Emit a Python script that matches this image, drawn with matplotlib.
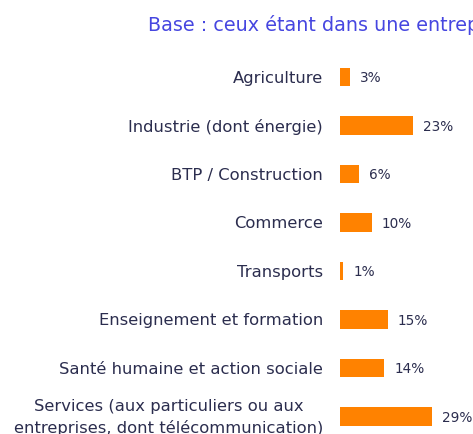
import matplotlib
matplotlib.use("Agg")
import matplotlib.pyplot as plt
from matplotlib.transforms import blended_transform_factory, offset_copy

categories = ["Agriculture", "Industrie (dont énergie)", "BTP / Construction", "Commerce",
              "Transports", "Enseignement et formation", "Santé humaine et action sociale",
              "Services (aux particuliers ou aux\nentreprises, dont télécommunication)"]
values = [3, 23, 6, 10, 1, 15, 14, 29]
title = "Base : ceux étant dans une entreprise"

W, H = 473, 435
fig = plt.figure(figsize=(W/100, H/100), dpi=100)
plt.rcParams['font.family'] = ['DejaVu Sans']

# axes: left at x=340 px, top at y=54 px, bottom at 435
ax = fig.add_axes([340/W, 0, 1 - 340/W, (435-54)/H])
ax.set_xlim(0, 133/3.17)
ax.set_ylim((435-78)/48.5, -0.5)
ax.axis('off')

orange = "#ff8200"
text_col = "#2b2d4e"
ypos = list(range(len(categories)))
ax.barh(ypos, values, height=0.38, color=orange)

tr_lab = blended_transform_factory(fig.transFigure, ax.transData)
for y, c, v in zip(ypos, categories, values):
    ax.text(323/W, y, c, transform=tr_lab, ha='right', va='center', fontsize=11.8,
            color=text_col, multialignment='center', linespacing=1.4)
    ax.text(v, y, f"{v}%", transform=offset_copy(ax.transData, fig=fig, x=10, y=0, units='dots'),
            ha='left', va='center', fontsize=9.8, color=text_col)

fig.text(148/W, 1 - 25/H, title, ha='left', va='center', fontsize=13.8, color="#4646e0")

fig.savefig("out.png", dpi=100, facecolor='white')
